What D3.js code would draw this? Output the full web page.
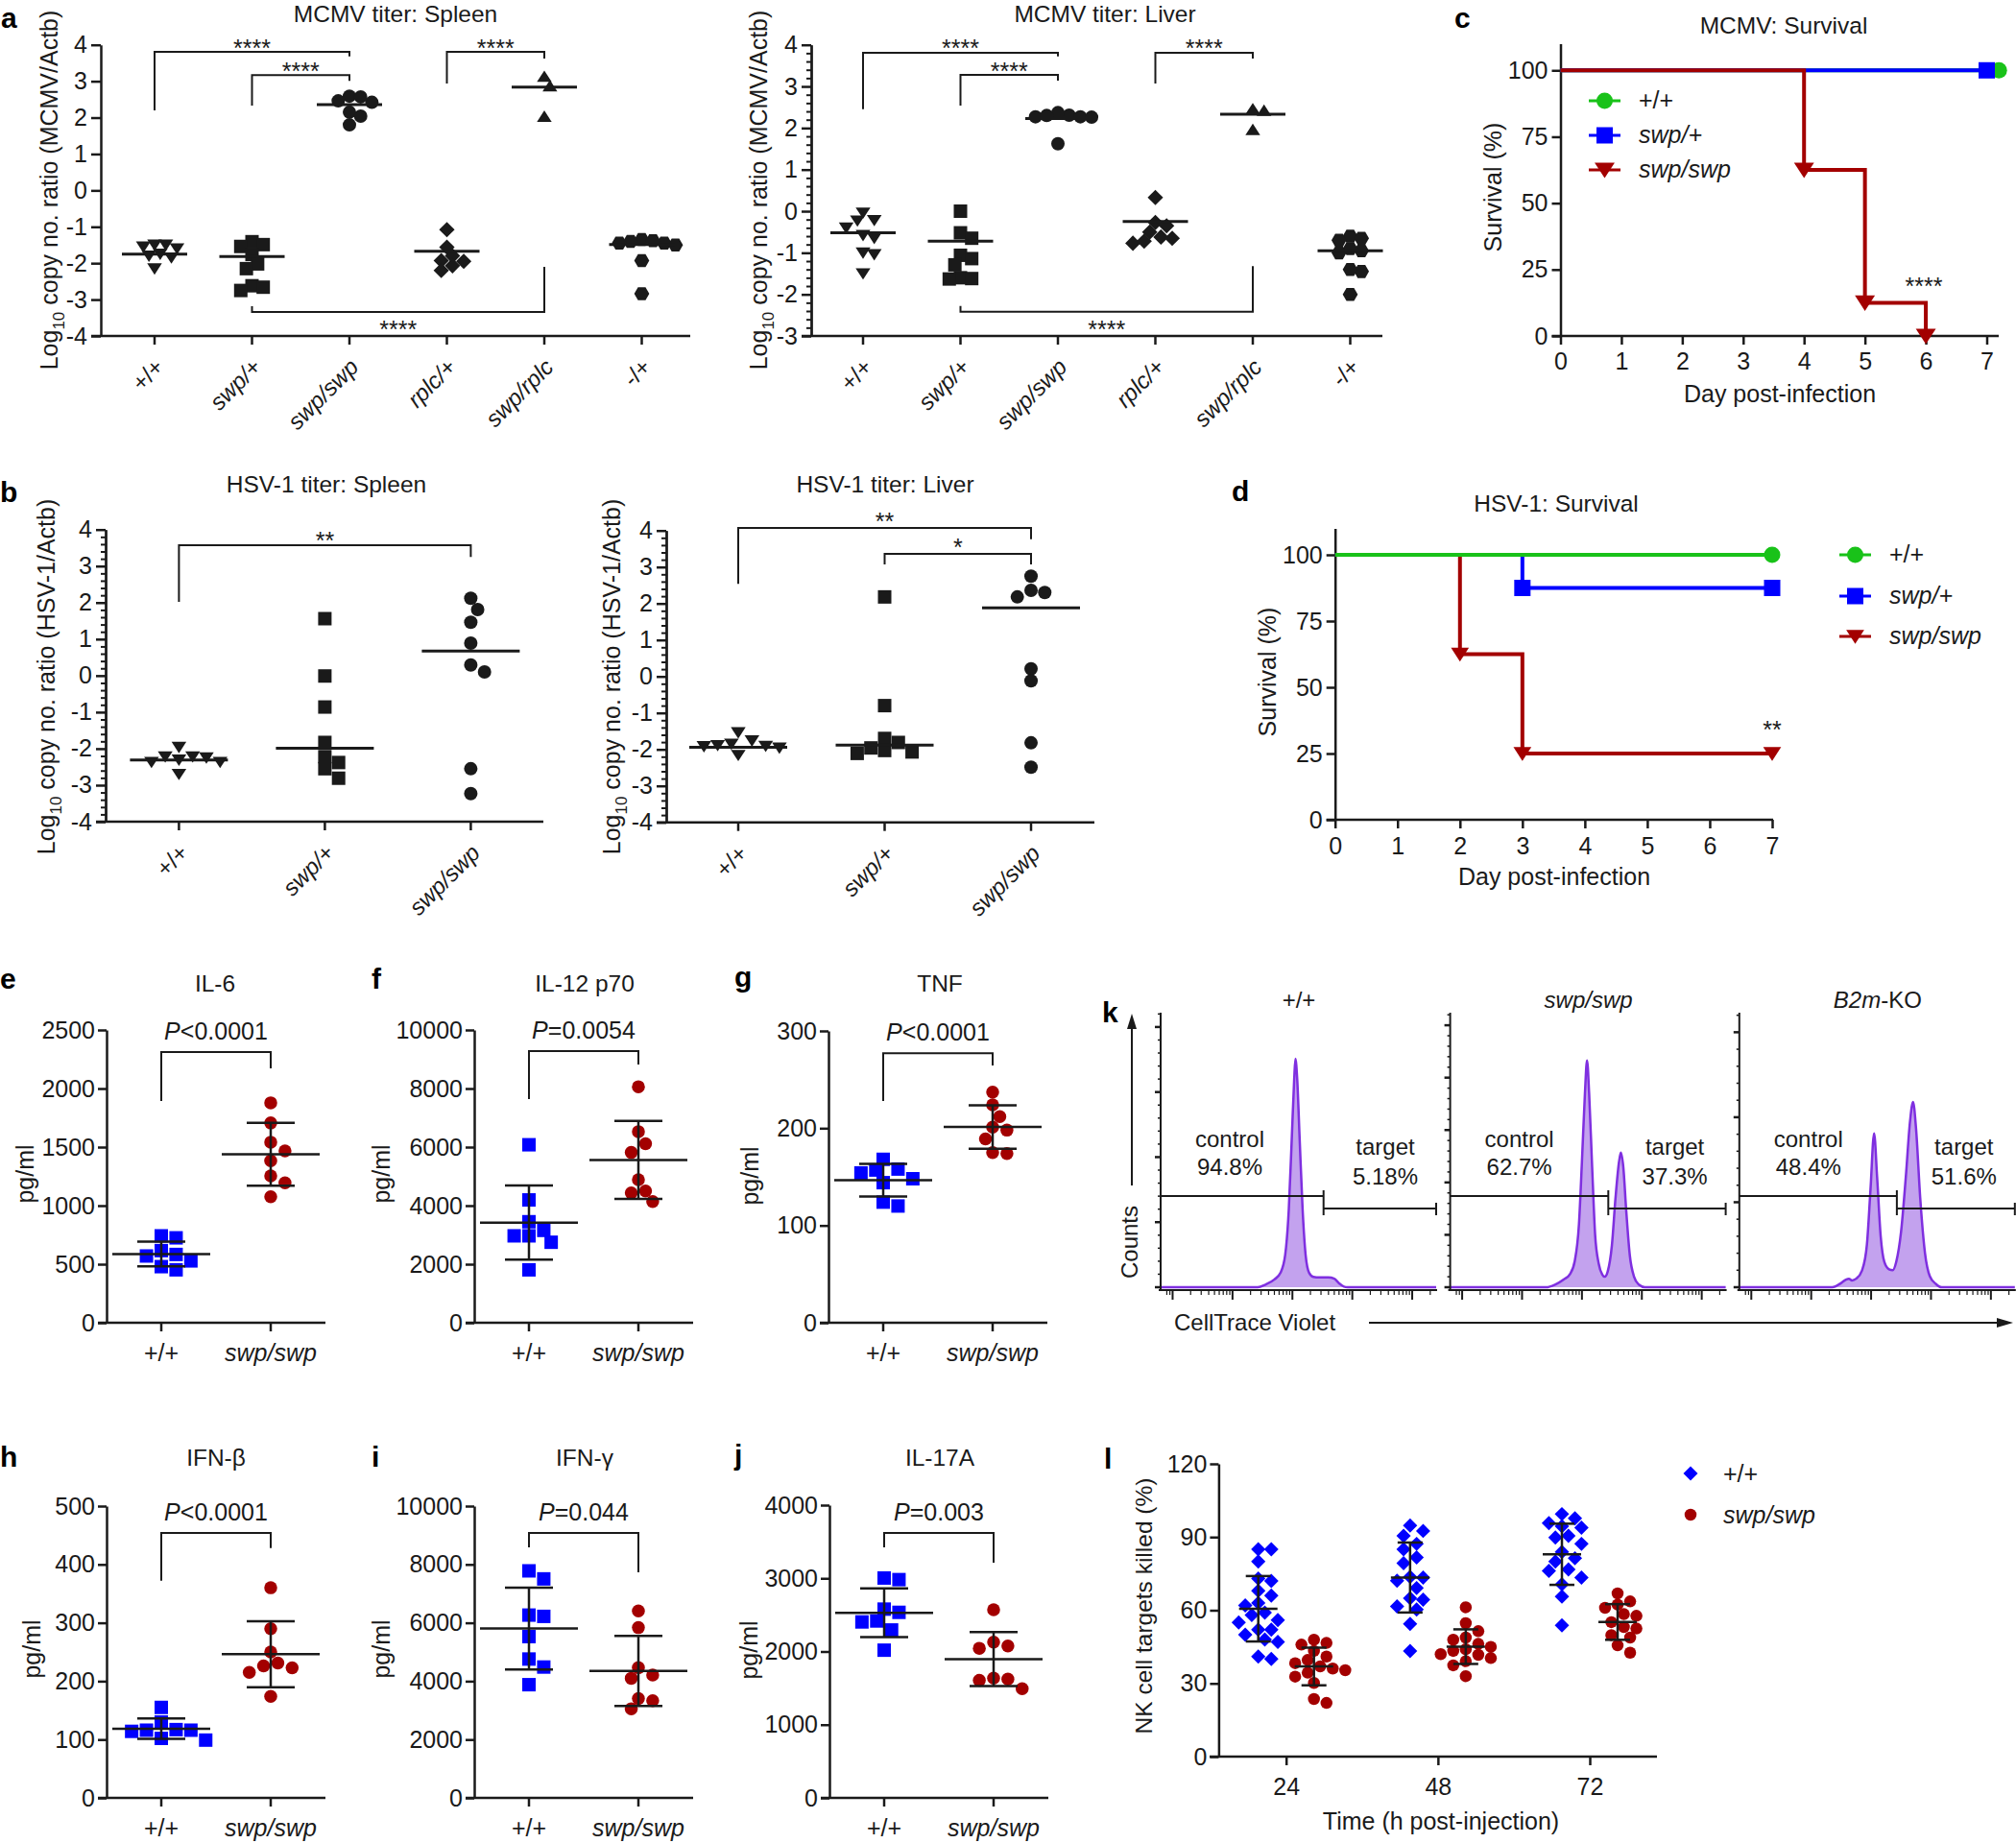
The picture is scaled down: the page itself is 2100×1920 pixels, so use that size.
<!DOCTYPE html>
<html><head><meta charset="utf-8">
<script src="https://cdn.jsdelivr.net/npm/d3@7"></script>
<style>
html,body{margin:0;padding:0;background:#fff;}
svg text{font-family:"Liberation Sans", Arial, Helvetica, sans-serif;}
</style></head><body>
<svg id="fig" width="2100" height="1920" xmlns="http://www.w3.org/2000/svg"></svg>
<script>
// ---------------- DATA ----------------
const mcmvCats = ["+/+","swp/+","swp/swp","rplc/+","swp/rplc","-/+"];
const mcmvSpleen = [
  [-1.5,-1.55,-1.5,-1.8,-1.85,-1.75,-2.15,-1.6],
  [-1.41,-1.54,-1.49,-1.76,-2.02,-2.15,-2.62,-2.75,-2.66],
  [2.59,2.46,2.42,2.57,2.15,2.04,1.80],
  [-1.08,-1.56,-1.80,-1.93,-1.95,-2.2,-2.07],
  [3.13,2.87,2.03],
  [-1.35,-1.4,-1.45,-1.38,-1.5,-1.45,-1.93,-2.84]
];
const mcmvSpleenCenter = [-1.75,-1.82,2.36,-1.67,2.84,-1.49];
const mcmvLiver = [
  [-0.22,-0.40,-0.23,-0.04,-0.58,-0.65,-1.0,-1.04,-1.5],
  [0.0,-0.52,-0.65,-1.06,-1.14,-1.29,-1.6,-1.63,-1.62],
  [2.31,2.37,2.27,2.27,2.26,2.3,1.62],
  [0.33,-0.27,-0.35,-0.62,-0.65,-0.77,-0.72,-0.5],
  [2.46,2.42,1.96],
  [-0.6,-0.65,-0.7,-0.95,-0.9,-1.0,-1.45,-1.4,-2.0]
];
const mcmvLiverCenter = [-0.52,-0.72,2.23,-0.25,2.33,-0.95];

const hsvCats = ["+/+","swp/+","swp/swp"];
const hsvSpleen = [
  [-2.22,-2.25,-2.37,-1.96,-2.7,-2.37,-2.31,-2.22],
  [1.56,-0.01,-0.86,-1.83,-2.38,-2.22,-2.55,-2.81],
  [2.12,1.81,1.46,0.89,0.29,0.1,-2.55,-3.23]
];
const hsvSpleenCenter = [-2.31,-1.99,0.67];
const hsvLiver = [
  [-1.76,-1.89,-1.92,-1.54,-2.16,-1.96,-1.91,-1.85],
  [2.18,-0.80,-1.81,-2.03,-2.11,-2.07,-1.96,-1.70],
  [2.75,2.30,2.18,2.36,0.21,-0.12,-1.82,-2.49]
];
const hsvLiverCenter = [-1.94,-1.88,1.88];

const survDays = [0,1,2,3,4,5,6,7];
const survTicks = [0,25,50,75,100];
const mcmvSurvWT  = [[0,100],[7.2,100]];
const mcmvSurvHet = [[0,100],[7,100]];
const mcmvSurvHom = [[0,100],[4,62.5],[5,12.5],[6,0]];
const hsvSurvWT  = [[0,100],[7,100]];
const hsvSurvHet = [[0,100],[3,87.5],[7,87.5]];
const hsvSurvHom = [[0,100],[2,62.5],[3,25],[7,25]];
const survLegend = ["+/+","swp/+","swp/swp"];

const cytoGroups = ["+/+","swp/swp"];
const il6WT  = [725,742,583,616,570,528,479,452];
const il6Swp = [1878,1706,1542,1468,1383,1254,1194,1076];
const il12WT  = [6079,4195,3450,3154,2968,2968,2749,1807];
const il12Swp = [8061,6528,6112,5816,4885,4502,4436,4140];
const tnfWT  = [168,157,158,154,148,144,124,120];
const tnfSwp = [237,224,212,201,198,189,174,175];
const ifnbWT  = [155,130,117,114,116,116,99,102];
const ifnbSwp = [360,290,250,231,223,215,226,174];
const ifngWT  = [7780,7505,6264,6220,5527,4758,4484,3879];
const ifngSwp = [6407,5835,4462,4209,4099,3407,3330,3055];
const il17WT  = [3004,2982,2535,2579,2417,2404,2294,2018];
const il17Swp = [2570,2075,2044,2127,1623,1605,1636,1491];

// CellTrace Violet histograms: [log10 intensity, count]
const ctvWT  = [[2.42,0],[2.55,4],[2.7,12],[2.8,22],[2.88,50],[2.94,120],[2.99,230],[3.03,320],[3.05,351],[3.08,320],[3.12,230],[3.17,120],[3.22,50],[3.28,22],[3.35,16],[3.45,15],[3.6,15],[3.7,13],[3.78,6],[3.86,1],[3.92,0]];
const ctvSwp = [[2.4,0],[2.55,5],[2.7,15],[2.8,25],[2.88,50],[2.95,120],[3.0,240],[3.05,370],[3.085,433],[3.12,370],[3.17,230],[3.22,100],[3.28,45],[3.34,24],[3.38,20],[3.43,30],[3.5,80],[3.56,170],[3.62,240],[3.65,257],[3.69,230],[3.74,145],[3.8,60],[3.87,20],[3.95,5],[4.05,0]];
const ctvB2m = [[2.35,0],[2.5,5],[2.58,9],[2.63,10],[2.68,8],[2.75,10],[2.85,20],[2.93,50],[2.99,115],[3.05,181],[3.1,130],[3.16,60],[3.22,30],[3.3,21],[3.36,20],[3.42,30],[3.5,65],[3.58,130],[3.65,195],[3.7,218],[3.75,187],[3.82,105],[3.9,40],[3.98,13],[4.08,4],[4.18,0]];
const ctvCountMax = [422,524,323];
const ctvGate = [3.52,3.44,3.43];
const ctvControl = ["94.8%","62.7%","48.4%"];
const ctvTarget = ["5.18%","37.3%","51.6%"];

const nkTimes = ["24","48","72"];
const nkWT24 = [85,85,80,73,72,68,66,63,62,59,58,56,55,52,52,50,48,47,40,41];
const nkWT48 = [94.7,92.5,90.5,87.2,85,81.6,79.3,73.7,73.4,72.1,69.1,64.9,64.3,61.6,60.3,54.4,43.3];
const nkWT72 = [99.4,97.7,95.7,94.4,93.8,90.5,89.8,87.2,83.9,81.3,80,76.7,76.1,73.4,70.6,65.6,53.8];
const nkSwp24 = [47.9,46.6,45.9,43.3,41,39.6,38.3,37,36.1,35.4,34.4,32.8,30.2,23.6,22];
const nkSwp48 = [61.2,54.7,51.4,48.8,47.9,46.2,45,44,43.3,42,41.7,40.4,39.1,37.4,33];
const nkSwp72 = [66.9,63.6,62.3,61,58.4,57.7,55.1,53.1,52.5,49.8,48.8,45.6,42.6];

// ---------------- STYLE ----------------
const FONT = '"Liberation Sans", Arial, Helvetica, sans-serif';
const INK = "#1a1a1a";
const BLUE = "#0000ff", RED = "#a30000", GREEN = "#19c219";
const PURPLE = "#7f2fe0", PURPLE_FILL = "#c3a2ee";

const svg = d3.select("#fig");
svg.append("rect").attr("width",2100).attr("height",1920).attr("fill","#fff");

function T(g, x, y, parts, o = {}) {
  const fs = o.size || 24;
  const t = g.append("text").attr("x", x).attr("y", y).attr("font-size", fs)
    .attr("text-anchor", o.anchor || "middle").attr("fill", o.fill || INK);
  if (o.bold) t.attr("font-weight", "bold");
  if (o.dy) t.attr("dy", o.dy);
  if (o.rot) t.attr("transform", `rotate(${o.rot},${x},${y})`);
  const arr = typeof parts === "string" ? [[parts, o.italic ? "i" : ""]] : parts;
  let shift = 0;
  arr.forEach(([s, st]) => {
    const ts = t.append("tspan").text(s);
    if (st.includes("i")) ts.attr("font-style", "italic");
    if (st.includes("sub")) { ts.attr("font-size", fs * 0.68).attr("dy", fs * 0.28); shift = fs * 0.28; }
    else if (shift) { ts.attr("dy", -shift); shift = 0; }
  });
  return t;
}
function axisStyle(s, fs, sw) {
  s.attr("font-family", FONT).attr("font-size", fs).attr("color", INK);
  s.selectAll("path,line").attr("stroke-width", sw || 2.5);
}
const SYM = {
  circle: {draw(c,s){const r=Math.sqrt(s)/2; c.moveTo(r,0); c.arc(0,0,r,0,2*Math.PI);}},
  square: {draw(c,s){const h=Math.sqrt(s)/2; c.rect(-h,-h,2*h,2*h);}},
  triDown:{draw(c,s){const r=Math.sqrt(s)/2; c.moveTo(-1.1*r,-0.8*r); c.lineTo(1.1*r,-0.8*r); c.lineTo(0,0.9*r); c.closePath();}},
  triUp:  {draw(c,s){const r=Math.sqrt(s)/2; c.moveTo(-1.1*r,0.8*r); c.lineTo(1.1*r,0.8*r); c.lineTo(0,-0.9*r); c.closePath();}},
  diamond:{draw(c,s){const r=Math.sqrt(s)/2*1.15; c.moveTo(0,-r); c.lineTo(r,0); c.lineTo(0,r); c.lineTo(-r,0); c.closePath();}},
  hexagon:{draw(c,s){const r=Math.sqrt(s)/2*1.12; for(let k=0;k<6;k++){const a=k*Math.PI/3; const px=r*Math.cos(a), py=r*Math.sin(a); if(k) c.lineTo(px,py); else c.moveTo(px,py);} c.closePath();}}
};
const sym = (type, size) => d3.symbol().type(SYM[type]).size(size*size)();

function swarm(vals, y, d, overlap) {
  const sep = d * (overlap || 0.95);
  const items = vals.map(v => ({v, py: y(v), dx: 0}));
  const order = items.slice().sort((a,b) => a.py - b.py);
  const placed = [], step = sep * 0.58;
  order.forEach(p => {
    for (let k = 0; k < 60; k++) {
      const dx = k === 0 ? 0 : (k % 2 ? 1 : -1) * Math.ceil(k/2) * step;
      if (placed.every(q => Math.hypot(q.dx - dx, q.py - p.py) >= sep)) { p.dx = dx; break; }
    }
    placed.push(p);
  });
  return items;
}
function letter(x, y, s) { T(svg, x, y, s, {size: 30, bold: true, anchor: "start", fill: "#000"}); }

// ---------------- TITER PANELS (a, b) ----------------
function titerPanel(o) {
  const g = svg.append("g");
  const y = d3.scaleLinear().domain(o.domain).range([o.bottom, o.top]);
  const x = d3.scalePoint().domain(o.cats).range(o.xr);
  if (o.minor) {
    const mv = d3.range(o.domain[0], o.domain[1] + 1e-9, 0.2).filter(v => Math.abs(v - Math.round(v)) > 1e-6);
    g.append("g").attr("transform", `translate(${o.axisX},0)`)
      .call(d3.axisLeft(y).tickValues(mv).tickSize(5).tickFormat("").tickSizeOuter(0))
      .call(s => axisStyle(s, 25, 2));
  }
  g.append("g").attr("transform", `translate(${o.axisX},0)`)
    .call(d3.axisLeft(y).tickValues(d3.range(o.domain[0], o.domain[1] + 1e-9, 1)).tickSize(10).tickPadding(4).tickSizeOuter(0).tickFormat(d => String(d)))
    .call(s => axisStyle(s, 25));
  g.append("line").attr("x1", o.axisX - 10).attr("x2", o.xEnd).attr("y1", o.bottom).attr("y2", o.bottom)
    .attr("stroke", INK).attr("stroke-width", 2.5);
  o.cats.forEach(c => {
    const cx = x(c);
    g.append("line").attr("x1", cx).attr("x2", cx).attr("y1", o.bottom).attr("y2", o.bottom + 9).attr("stroke", INK).attr("stroke-width", 2.5);
    T(g, cx + 5, o.bottom + 28, c, {anchor: "end", rot: -45, dy: "0.35em", italic: /[a-z]/.test(c), size: 24});
  });
  o.data.forEach((vals, i) => {
    const cx = x(o.cats[i]);
    swarm(vals, y, o.ms, o.overlap).forEach(p => g.append("path").attr("d", sym(o.shapes[i], o.ms))
      .attr("transform", `translate(${cx + p.dx},${p.py})`).attr("fill", INK));
    g.append("line").attr("x1", cx - o.half).attr("x2", cx + o.half).attr("y1", y(o.center[i])).attr("y2", y(o.center[i]))
      .attr("stroke", INK).attr("stroke-width", 3);
  });
  o.brackets.forEach(b => {
    const x1 = x(o.cats[b[0]]), x2 = x(o.cats[b[1]]);
    g.append("path").attr("d", `M${x1},${y(b[3])}V${y(b[2])}H${x2}V${y(b[4])}`)
      .attr("fill", "none").attr("stroke", INK).attr("stroke-width", 2);
    T(g, (x1 + x2) / 2, y(b[6]) + 14, b[5], {size: 25});
  });
  T(g, o.titleX, o.titleY, o.title, {size: 24.5});
  T(g, o.ylab[0], o.ylab[1], [["Log",""],["10","sub"],[` copy no. ratio (${o.virus}/Actb)`,""]], {rot: -90, dy: "0.35em", size: 25});
}

titerPanel({domain:[-4,4], bottom:350, top:46.7, axisX:105, xr:[161,668.5], xEnd:719, cats:mcmvCats,
  data:mcmvSpleen, center:mcmvSpleenCenter, shapes:["triDown","square","circle","diamond","triUp","hexagon"],
  ms:14, half:34, minor:false, overlap:0.72, title:"MCMV titer: Spleen", titleX:412, titleY:23, ylab:[51,198], virus:"MCMV",
  brackets:[[0,2,3.81,2.2,3.68,"****",4.05],[1,2,3.17,2.33,3.01,"****",3.41],[3,4,3.81,2.94,3.62,"****",4.05],[1,4,-3.34,-3.18,-2.1,"****",-3.69]]});
titerPanel({domain:[-3,4], bottom:350, top:46.7, axisX:845, xr:[899,1406.5], xEnd:1440, cats:mcmvCats,
  data:mcmvLiver, center:mcmvLiverCenter, shapes:["triDown","square","circle","diamond","triUp","hexagon"],
  ms:14, half:34, minor:true, overlap:0.72, title:"MCMV titer: Liver", titleX:1151, titleY:23, ylab:[790,198], virus:"MCMV",
  brackets:[[0,2,3.81,2.45,3.72,"****",4.04],[1,2,3.28,2.54,3.14,"****",3.48],[3,4,3.81,3.07,3.67,"****",4.04],[1,4,-2.42,-2.28,-1.32,"****",-2.72]]});
titerPanel({domain:[-4,4], bottom:856, top:551.7, axisX:110, xr:[186.4,490.4], xEnd:566, cats:hsvCats,
  data:hsvSpleen, center:hsvSpleenCenter, shapes:["triDown","square","circle"],
  ms:14, half:51, minor:true, overlap:0.88, title:"HSV-1 titer: Spleen", titleX:340, titleY:513, ylab:[48,705], virus:"HSV-1",
  brackets:[[0,2,3.57,2.02,3.25,"**",3.83]]});
titerPanel({domain:[-4,4], bottom:856.7, top:552.7, axisX:694, xr:[769,1074], xEnd:1140, cats:hsvCats,
  data:hsvLiver, center:hsvLiverCenter, shapes:["triDown","square","circle"],
  ms:14, half:51, minor:true, overlap:0.88, title:"HSV-1 titer: Liver", titleX:922, titleY:513, ylab:[637,705], virus:"HSV-1",
  brackets:[[0,2,4.07,2.54,3.76,"**",4.39],[1,2,3.36,3.07,3.07,"*",3.68]]});

// ---------------- SURVIVAL (c, d) ----------------
function survPanel(o) {
  const g = svg.append("g");
  const x = d3.scaleLinear().domain([0,7]).range(o.xr);
  const y = d3.scaleLinear().domain([0,110]).range([o.bottom, o.top]);
  g.append("g").attr("transform", `translate(${o.xr[0]},0)`)
    .call(d3.axisLeft(y).tickValues(survTicks).tickSize(9).tickPadding(4).tickSizeOuter(0).tickFormat(d => String(d)))
    .call(s => axisStyle(s, 25));
  g.append("line").attr("x1", o.xr[0] - 9).attr("x2", o.xEnd).attr("y1", o.bottom).attr("y2", o.bottom).attr("stroke", INK).attr("stroke-width", 2.5);
  g.append("g").attr("transform", `translate(0,${o.bottom})`)
    .call(d3.axisBottom(x).tickValues(survDays).tickSize(9).tickPadding(o.pad).tickSizeOuter(0).tickFormat(d => String(d)))
    .call(s => axisStyle(s, 25)).select(".domain").remove();
  const line = d3.line().x(d => x(d[0])).y(d => y(d[1])).curve(d3.curveStepAfter);
  o.series.forEach(s => {
    g.append("path").attr("d", line(s.data)).attr("fill", "none").attr("stroke", s.color).attr("stroke-width", 4);
    s.data.slice(1).forEach(d => g.append("path").attr("d", sym(s.shape, s.ms)).attr("transform", `translate(${x(d[0])},${y(d[1])})`).attr("fill", s.color));
  });
  o.legendSeries.forEach((s, k) => {
    const ly = o.legY[k];
    g.append("line").attr("x1", o.legLine[0]).attr("x2", o.legLine[1]).attr("y1", ly).attr("y2", ly).attr("stroke", s.color).attr("stroke-width", 3);
    g.append("path").attr("d", sym(s.shape, s.ms)).attr("transform", `translate(${(o.legLine[0]+o.legLine[1])/2},${ly})`).attr("fill", s.color);
    T(g, o.legTX, ly + 8, survLegend[k], {anchor: "start", italic: /[a-z]/.test(survLegend[k]), size: 25});
  });
  T(g, o.title[1], o.title[2], o.title[0], {size: 24.5});
  T(g, o.ylab[0], o.ylab[1], "Survival (%)", {rot: -90, dy: "0.35em", size: 25});
  T(g, o.xlab[0], o.xlab[1], "Day post-infection", {size: 25});
  T(g, o.star[1], o.star[2] + 14, o.star[0], {size: 25});
}
const cWT = {data: mcmvSurvWT, color: GREEN, shape: "circle", ms: 17};
const cHet = {data: mcmvSurvHet, color: BLUE, shape: "square", ms: 17};
const cHom = {data: mcmvSurvHom, color: RED, shape: "triDown", ms: 19};
survPanel({xr:[1625.5,2069.5], xEnd:2082, bottom:350, top:45.6, pad:8, series:[cWT, cHet, cHom], legendSeries:[cWT, cHet, cHom],
  legY:[105,141,177], legLine:[1655,1688], legTX:1707, title:["MCMV: Survival",1858,35], ylab:[1555,195], xlab:[1854,419], star:["****",2004,293]});
const dWT = {data: hsvSurvWT, color: GREEN, shape: "circle", ms: 17};
const dHet = {data: hsvSurvHet, color: BLUE, shape: "square", ms: 17};
const dHom = {data: hsvSurvHom, color: RED, shape: "triDown", ms: 17};
survPanel({xr:[1390.7,1846], xEnd:1847, bottom:854, top:550.4, pad:9, series:[dHom, dHet, dWT], legendSeries:[dWT, dHet, dHom],
  legY:[578,621,663], legLine:[1916,1949], legTX:1968, title:["HSV-1: Survival",1621,533], ylab:[1320,700], xlab:[1619,922], star:["**",1846,755]});

// ---------------- CYTOKINES (e-j) ----------------
function cytoPanel(o) {
  const g = svg.append("g");
  const y = d3.scaleLinear().domain([0, o.max]).range([o.bottom, o.top]);
  const x = d3.scalePoint().domain(cytoGroups).range([o.axisX + 57, o.axisX + 171]);
  g.append("g").attr("transform", `translate(${o.axisX},0)`)
    .call(d3.axisLeft(y).tickValues(d3.range(0, o.max + 1, o.step)).tickSize(9).tickPadding(3).tickSizeOuter(0).tickFormat(d => String(d)))
    .call(s => axisStyle(s, 25));
  g.append("line").attr("x1", o.axisX - 9).attr("x2", o.axisX + 228).attr("y1", o.bottom).attr("y2", o.bottom).attr("stroke", INK).attr("stroke-width", 2.5);
  cytoGroups.forEach(c => {
    g.append("line").attr("x1", x(c)).attr("x2", x(c)).attr("y1", o.bottom).attr("y2", o.bottom + 9).attr("stroke", INK).attr("stroke-width", 2.5);
    T(g, x(c), o.bottom + 40, c, {italic: /[a-z]/.test(c), size: 25});
  });
  [[o.wt, BLUE, "square", 14], [o.swp, RED, "circle", 13.5]].forEach(([vals, col, shp, ms], i) => {
    const cx = x(cytoGroups[i]);
    swarm(vals, y, ms, 0.95).forEach(p => g.append("path").attr("d", sym(shp, ms)).attr("transform", `translate(${cx + p.dx},${p.py})`).attr("fill", col));
    const m = d3.mean(vals), sd = d3.deviation(vals);
    const st = l => l.attr("stroke", INK).attr("stroke-width", 2.5);
    st(g.append("line").attr("x1", cx - 51).attr("x2", cx + 51).attr("y1", y(m)).attr("y2", y(m)));
    st(g.append("line").attr("x1", cx).attr("x2", cx).attr("y1", y(m - sd)).attr("y2", y(m + sd)));
    [m - sd, m + sd].forEach(v => st(g.append("line").attr("x1", cx - 25).attr("x2", cx + 25).attr("y1", y(v)).attr("y2", y(v))));
  });
  const x1 = x(cytoGroups[0]), x2 = x(cytoGroups[1]);
  g.append("path").attr("d", `M${x1},${y(o.br[1])}V${y(o.br[0])}H${x2}V${y(o.br[2])}`).attr("fill", "none").attr("stroke", INK).attr("stroke-width", 2);
  T(g, (x1 + x2) / 2, y(o.br[0]) - 13, [["P","i"],[o.p,""]], {size: 25});
  T(g, o.title[1], o.title[2], o.title[0], {size: 24.5});
  T(g, o.ylab[0], o.ylab[1], "pg/ml", {rot: -90, dy: "0.35em", size: 25});
}
cytoPanel({axisX:111, bottom:1378, top:1073, max:2500, step:500, wt:il6WT, swp:il6Swp, br:[2311,1893,2172], p:"<0.0001", title:["IL-6",224,1033], ylab:[26,1223]});
cytoPanel({axisX:494, bottom:1378, top:1073, max:10000, step:2000, wt:il12WT, swp:il12Swp, br:[9279,7639,8820], p:"=0.0054", title:["IL-12 p70",609,1033], ylab:[397,1223]});
cytoPanel({axisX:863, bottom:1378, top:1074, max:300, step:100, wt:tnfWT, swp:tnfSwp, br:[277,228,264.5], p:"<0.0001", title:["TNF",979,1033], ylab:[781,1225]});
cytoPanel({axisX:111, bottom:1873, top:1569, max:500, step:100, wt:ifnbWT, swp:ifnbSwp, br:[454,372,428], p:"<0.0001", title:["IFN-\u03b2",225,1527], ylab:[33,1718]});
cytoPanel({axisX:494, bottom:1873, top:1569, max:10000, step:2000, wt:ifngWT, swp:ifngSwp, br:[9079,8586,7730], p:"=0.044", title:["IFN-\u03b3",609,1527], ylab:[397,1718]});
cytoPanel({axisX:864, bottom:1873, top:1568, max:4000, step:1000, wt:il17WT, swp:il17Swp, br:[3620,3423,3213], p:"=0.003", title:["IL-17A",979,1527], ylab:[780,1719]});

// ---------------- FLOW HISTOGRAMS (k) ----------------
const kAxisX = [1209, 1510.6, 1811.8];
const kTitles = [[["+/+",""]], [["swp/swp","i"]], [["B2m","i"],["-KO",""]]];
[ctvWT, ctvSwp, ctvB2m].forEach((hist, i) => {
  const g = svg.append("g");
  const ax = kAxisX[i];
  const xk = d3.scaleLinear().domain([0.8, 5.4]).range([ax, ax + 287]);
  const yk = d3.scaleLinear().domain([0, ctvCountMax[i]]).range([1341, 1055]);
  const pts = [[0.8, 0], ...hist, [5.4, 0]];
  g.append("path").attr("d", d3.area().x(d => xk(d[0])).y0(yk(0)).y1(d => yk(d[1])).curve(d3.curveMonotoneX)(pts)).attr("fill", PURPLE_FILL);
  g.append("path").attr("d", d3.line().x(d => xk(d[0])).y(d => yk(d[1])).curve(d3.curveMonotoneX)(pts)).attr("fill", "none").attr("stroke", PURPLE).attr("stroke-width", 2.5);
  g.append("line").attr("x1", ax).attr("x2", ax).attr("y1", 1055).attr("y2", 1344).attr("stroke", INK).attr("stroke-width", 2);
  g.append("line").attr("x1", ax - 2).attr("x2", ax + 288).attr("y1", 1344).attr("y2", 1344).attr("stroke", INK).attr("stroke-width", 2);
  d3.range(0, ctvCountMax[i], 20).forEach(v => {
    const major = v % 100 === 0;
    g.append("line").attr("x1", ax - (major ? 6 : 3)).attr("x2", ax).attr("y1", yk(v)).attr("y2", yk(v)).attr("stroke", INK).attr("stroke-width", major ? 2.5 : 1.5);
  });
  const xt = [];
  [0,1,2,3,4,5].forEach(d => d3.range(1, 10).forEach(k => { const v = d + Math.log10(k); if (v >= 0.85 && v <= 5.35) xt.push([v, k === 1]); }));
  xt.forEach(([v, major]) => g.append("line").attr("x1", xk(v)).attr("x2", xk(v)).attr("y1", 1344).attr("y2", 1344 + (major ? 10 : 5)).attr("stroke", INK).attr("stroke-width", major ? 2 : 1.2));
  const gx = xk(ctvGate[i]), xe = ax + 287, cy = 1246, ty = 1259;
  const gs = l => l.attr("stroke", INK).attr("stroke-width", 2);
  gs(g.append("line").attr("x1", ax).attr("x2", gx).attr("y1", cy).attr("y2", cy));
  gs(g.append("line").attr("x1", gx).attr("x2", xe).attr("y1", ty).attr("y2", ty));
  gs(g.append("line").attr("x1", gx).attr("x2", gx).attr("y1", cy - 6).attr("y2", ty + 7));
  gs(g.append("line").attr("x1", xe).attr("x2", xe).attr("y1", ty - 6).attr("y2", ty + 7));
  T(g, ax + 72, 1195, "control", {size: 24});
  T(g, ax + 72, 1224, ctvControl[i], {size: 24});
  T(g, ax + 234, 1203, "target", {size: 24});
  T(g, ax + 234, 1234, ctvTarget[i], {size: 24});
  T(g, ax + 144, 1050, kTitles[i], {size: 24});
});
{
  const g = svg.append("g");
  g.append("line").attr("x1", 1179).attr("x2", 1179).attr("y1", 1235).attr("y2", 1068).attr("stroke", INK).attr("stroke-width", 2);
  g.append("path").attr("d", "M1179,1056L1174,1072L1184,1072Z").attr("fill", INK);
  T(g, 1177, 1294, "Counts", {rot: -90, dy: "0.35em", size: 24});
  g.append("line").attr("x1", 1426).attr("x2", 2082).attr("y1", 1378).attr("y2", 1378).attr("stroke", INK).attr("stroke-width", 2);
  g.append("path").attr("d", "M2097,1378L2080,1373L2080,1383Z").attr("fill", INK);
  T(g, 1223, 1386, "CellTrace Violet", {anchor: "start", size: 24});
}

// ---------------- NK KILLING (l) ----------------
{
  const g = svg.append("g");
  const y = d3.scaleLinear().domain([0, 120]).range([1830, 1525]);
  const x = d3.scalePoint().domain(nkTimes).range([1339.7, 1656]);
  g.append("g").attr("transform", "translate(1269.4,0)")
    .call(d3.axisLeft(y).tickValues([0,30,60,90,120]).tickSize(9).tickPadding(3).tickSizeOuter(0).tickFormat(d => String(d)))
    .call(s => axisStyle(s, 25));
  g.append("line").attr("x1", 1260).attr("x2", 1726).attr("y1", 1830).attr("y2", 1830).attr("stroke", INK).attr("stroke-width", 2.5);
  g.append("g").attr("transform", "translate(0,1830)")
    .call(d3.axisBottom(x).tickSize(9).tickPadding(13).tickSizeOuter(0))
    .call(s => axisStyle(s, 25)).select(".domain").remove();
  const wt = [nkWT24, nkWT48, nkWT72], sw = [nkSwp24, nkSwp48, nkSwp72];
  nkTimes.forEach((t, i) => {
    [[wt[i], BLUE, "diamond", 13, -29], [sw[i], RED, "circle", 12.5, 29]].forEach(([vals, col, shp, ms, off]) => {
      const cx = x(t) + off;
      swarm(vals, y, ms, 0.9).forEach(p => g.append("path").attr("d", sym(shp, ms)).attr("transform", `translate(${cx + p.dx},${p.py})`).attr("fill", col));
      const m = d3.mean(vals), sd = d3.deviation(vals);
      const st = l => l.attr("stroke", INK).attr("stroke-width", 2.5);
      st(g.append("line").attr("x1", cx - 20).attr("x2", cx + 20).attr("y1", y(m)).attr("y2", y(m)));
      st(g.append("line").attr("x1", cx).attr("x2", cx).attr("y1", y(m - sd)).attr("y2", y(m + sd)));
      [m - sd, m + sd].forEach(v => st(g.append("line").attr("x1", cx - 13).attr("x2", cx + 13).attr("y1", y(v)).attr("y2", y(v))));
    });
  });
  g.append("path").attr("d", sym("diamond", 13)).attr("transform", "translate(1761,1535)").attr("fill", BLUE);
  g.append("path").attr("d", sym("circle", 12.5)).attr("transform", "translate(1761,1578)").attr("fill", RED);
  T(g, 1795, 1544, "+/+", {anchor: "start", size: 25});
  T(g, 1795, 1587, "swp/swp", {anchor: "start", italic: true, size: 25});
  T(g, 1191, 1673, "NK cell targets killed (%)", {rot: -90, dy: "0.35em", size: 24.5});
  T(g, 1501, 1906, "Time (h post-injection)", {size: 25});
}

// ---------------- PANEL LETTERS ----------------
letter(1, 29, "a"); letter(0, 523, "b"); letter(1515, 29, "c"); letter(1283, 522, "d");
letter(0, 1030, "e"); letter(387, 1030, "f"); letter(765, 1028, "g");
letter(1148, 1065, "k");
letter(0, 1528, "h"); letter(387, 1528, "i"); letter(765, 1526, "j"); letter(1150, 1530, "l");
</script>
</body></html>
